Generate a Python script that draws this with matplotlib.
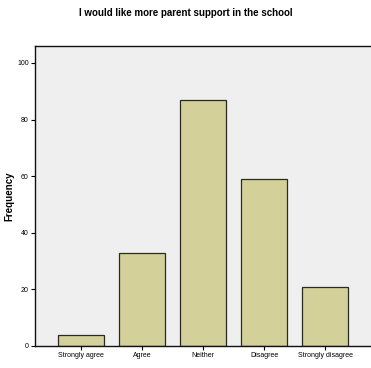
import matplotlib
matplotlib.use('Agg')
import matplotlib.pyplot as plt

# survey responses
categories = ['Strongly agree', 'Agree', 'Neither', 'Disagree', 'Strongly disagree']
counts = [4, 33, 87, 59, 21]
yticks = [0, 20, 40, 60, 80, 100]

plt.rcParams['font.family'] = ['Liberation Sans Narrow', 'Liberation Sans', 'DejaVu Sans']

fig = plt.figure(figsize=(3.71, 3.68), dpi=100)
ax = fig.add_axes([35/371, 22/368, 336/371, 300/368])
ax.set_facecolor('#efefef')

x = list(range(len(categories)))
ax.bar(x, counts, width=0.75, color='#d3d09a', edgecolor='#2a2a20', linewidth=0.9, zorder=2)

ax.set_xlim(-0.76, 4.75)
ax.set_ylim(0, 106)
ax.set_xticks(x)
ax.set_xticklabels(categories, fontsize=5)
ax.set_yticks(yticks)
ax.set_yticklabels([str(t) for t in yticks], fontsize=5)
ax.tick_params(axis='both', direction='out', length=3, width=0.8, pad=1.5)

ax.spines['right'].set_visible(False)
for s in ['left', 'bottom', 'top']:
    ax.spines[s].set_linewidth(1.0)
    ax.spines[s].set_color('#111111')

ax.set_ylabel('Frequency', fontsize=7, fontweight='bold', family=['Liberation Sans', 'DejaVu Sans'])
ax.yaxis.set_label_coords(-0.06, 0.5)
fig.text(0.5, 1 - 13/368, 'I would like more parent support in the school',
         ha='center', va='center', fontsize=7, fontweight='bold')

fig.savefig('out.png', dpi=100)
